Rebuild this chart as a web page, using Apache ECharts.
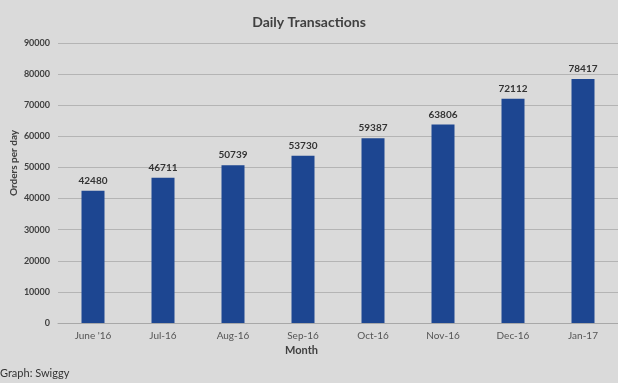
<!DOCTYPE html>
<html><head><meta charset="utf-8">
<script src="https://cdn.jsdelivr.net/npm/echarts@6/dist/echarts.min.js"></script>
<style>html,body{margin:0;padding:0;background:#dadada}#c{width:618px;height:383px}</style>
</head><body><div id="c"></div>
<script>
const categories = ["June '16","Jul-16","Aug-16","Sep-16","Oct-16","Nov-16","Dec-16","Jan-17"];
const orders = [42480,46711,50739,53730,59387,63806,72112,78417];
const yTicks = {min:0, max:90000, interval:10000};
const chart = echarts.init(document.getElementById('c'), null, {renderer:'canvas'});
const FONT = 'Lato, "Open Sans", sans-serif';
chart.setOption({
  backgroundColor:'#dadada',
  animation:false,
  title:{text:'Daily Transactions', left:'center', top:10,
    textStyle:{fontFamily:FONT, fontSize:14, fontWeight:'bold', color:'#404040'}},
  grid:{left:58, right:-4, top:43, bottom:60},
  xAxis:{type:'category', data:categories,
    axisLine:{lineStyle:{color:'#a8a8a8'}}, axisTick:{show:false},
    axisLabel:{fontFamily:FONT, fontSize:10, color:'#555', margin:8}},
  yAxis:{type:'value', min:yTicks.min, max:yTicks.max, interval:yTicks.interval,
    axisLine:{show:false}, axisTick:{show:false},
    splitLine:{lineStyle:{color:'#b4b4b4'}},
    axisLabel:{fontFamily:FONT, fontSize:9, fontWeight:'bold', color:'#404040', margin:8,
      formatter:v=>String(v)}},
  series:[{type:'bar', data:orders, barWidth:23,
    itemStyle:{color:'#1d4691'},
    label:{show:true, position:'top', distance:5, fontFamily:FONT, fontSize:10, fontWeight:'bold', color:'#333'}}],
  graphic:[
    {type:'text', left:285, top:345, style:{text:'Month', font:'bold 11px '+FONT, fill:'#404040'}},
    {type:'text', x:9, y:163, rotation:Math.PI/2, style:{text:'Orders per day', font:'bold 10px '+FONT, fill:'#404040', textAlign:'center', textVerticalAlign:'top'}},
    {type:'text', left:0, top:368, style:{text:'Graph: Swiggy', font:'11px '+FONT, fill:'#333'}}
  ]
});
</script></body></html>
